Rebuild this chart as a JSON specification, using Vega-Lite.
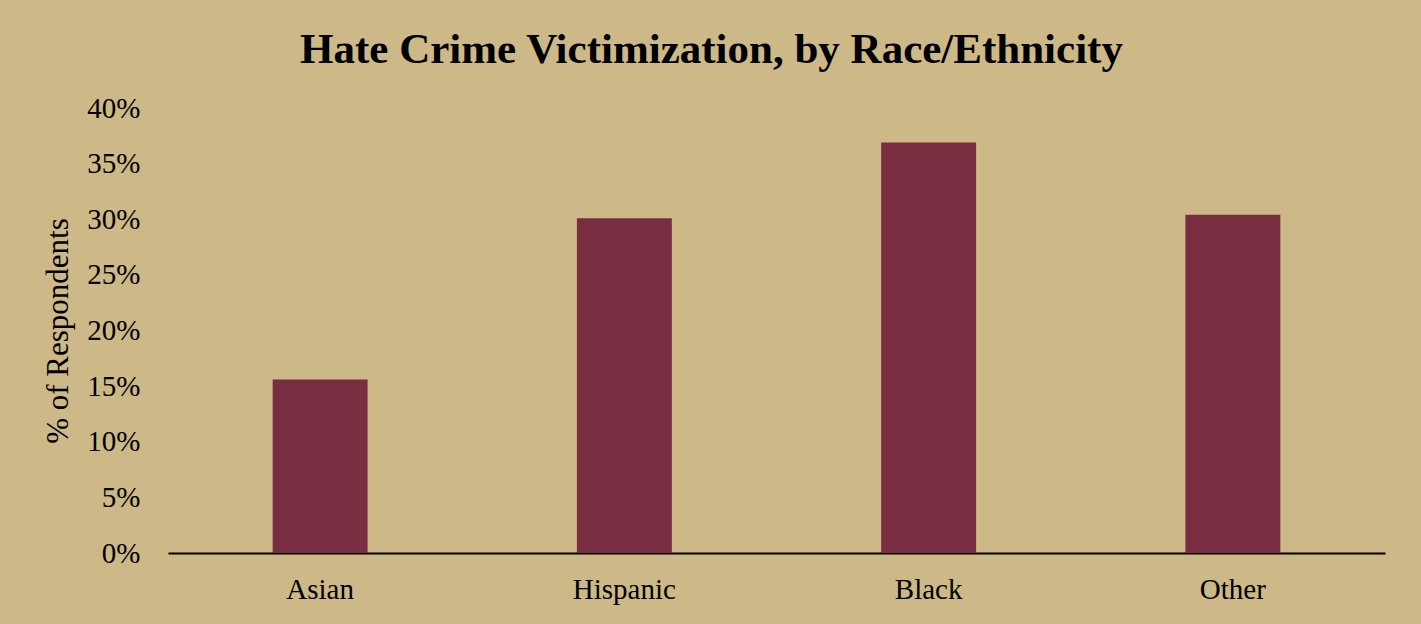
{
  "$schema": "https://vega.github.io/schema/vega-lite/v6.json",
  "autosize": {"type": "none"},
  "width": 1217,
  "height": 445,
  "padding": {"left": 168, "top": 108, "right": 36, "bottom": 71},
  "background": "#CDB887",
  "config": {"view": {"stroke": null}, "font": "Liberation Serif"},
  "title": {
    "text": "Hate Crime Victimization, by Race/Ethnicity",
    "font": "Liberation Serif",
    "fontSize": 43,
    "fontWeight": "bold",
    "color": "#000000",
    "anchor": "middle",
    "dx": -65,
    "offset": 22
  },
  "data": {
    "values": [
      {"group": "Asian", "pct": 0.156},
      {"group": "Hispanic", "pct": 0.301},
      {"group": "Black", "pct": 0.369},
      {"group": "Other", "pct": 0.304}
    ]
  },
  "mark": {"type": "bar", "color": "#782E40"},
  "encoding": {
    "x": {
      "field": "group",
      "type": "nominal",
      "sort": null,
      "scale": {"paddingInner": 0.688, "paddingOuter": 0.344},
      "axis": {
        "title": null,
        "labelAngle": 0,
        "labelFont": "Liberation Serif",
        "labelFontSize": 29,
        "labelColor": "#000000",
        "labelPadding": 22,
        "ticks": false,
        "domainColor": "#000000",
        "domainWidth": 2
      }
    },
    "y": {
      "field": "pct",
      "type": "quantitative",
      "scale": {"domain": [0, 0.4]},
      "axis": {
        "title": "% of Respondents",
        "titleFont": "Liberation Serif",
        "titleFontSize": 31,
        "titleFontWeight": "normal",
        "titleColor": "#000000",
        "titlePadding": 12,
        "format": ".0%",
        "values": [0, 0.05, 0.1, 0.15, 0.2, 0.25, 0.3, 0.35, 0.4],
        "labelFont": "Liberation Serif",
        "labelFontSize": 29,
        "labelColor": "#000000",
        "labelPadding": 28,
        "ticks": false,
        "domain": false,
        "grid": false
      }
    }
  }
}
